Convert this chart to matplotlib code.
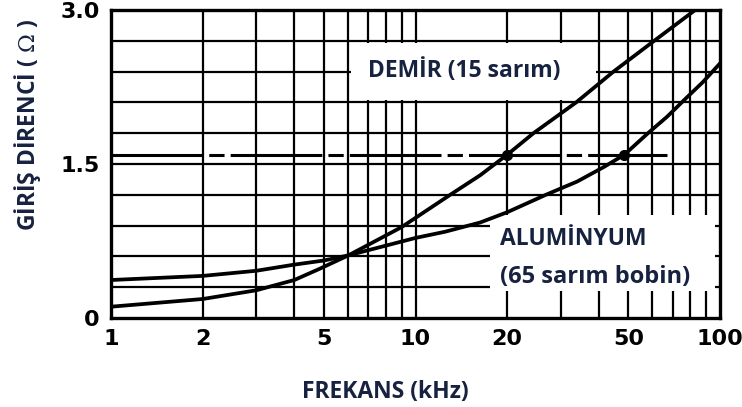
import matplotlib
matplotlib.use("Agg")
import matplotlib.pyplot as plt
from matplotlib.patches import Rectangle

# values
demir_khz = [1, 2, 3, 4, 4.85, 6.02, 9, 13, 16.3, 20, 24.4, 33.7, 44.7, 60.8, 82.9]
demir_ohm = [0.11, 0.185, 0.27, 0.37, 0.48, 0.61, 0.885, 1.2, 1.39, 1.59, 1.8, 2.1, 2.4, 2.7, 3.0]

alu_khz = [1, 2, 3, 4, 5, 6.02, 10, 12.5, 16.3, 20, 26.8, 34, 41.5, 48.5, 58, 67, 77.3, 88, 100]
alu_ohm = [0.37, 0.41, 0.46, 0.52, 0.56, 0.61, 0.78, 0.84, 0.93, 1.03, 1.2, 1.33,
           1.47, 1.59, 1.8, 1.96, 2.14, 2.3, 2.48]

ref_level = 1.59
ref_span = [1, 67]
marked_khz = [20, 48.5]

x_ticks = [1, 2, 5, 10, 20, 50, 100]
x_grid = [2, 3, 4, 5, 6, 7, 8, 9, 10, 20, 30, 40, 50, 60, 70, 80, 90]
y_grid = [0.3, 0.6, 0.9, 1.2, 1.5, 1.8, 2.1, 2.4, 2.7]
y_ticks = [0, 1.5, 3.0]
y_ticklabels = ["0", "1.5", "3.0"]

navy = "#16223f"
label_font = ["Open Sans", "DejaVu Sans"]
plt.rcParams["mathtext.fontset"] = "dejavuserif"

fig = plt.figure(figsize=(7.42, 4.07), dpi=100)
ax = fig.add_axes([111 / 742, 89 / 407, 609 / 742, 308 / 407])
ax.set_xscale("log")
ax.set_xlim(1, 100)
ax.set_ylim(0, 3.0)

for g in x_grid:
    ax.axvline(g, color="black", lw=1.6, zorder=1)
for g in y_grid:
    ax.axhline(g, color="black", lw=1.6, zorder=1)

# white label boxes that blank out the grid
ax.add_patch(Rectangle((6.15, 2.12), 39.3 - 6.15, 2.68 - 2.12,
                       facecolor="white", edgecolor="none", zorder=2))
ax.add_patch(Rectangle((17.6, 0.26), 96.5 - 17.6, 1.0 - 0.26,
                       facecolor="white", edgecolor="none", zorder=2))

ax.plot(ref_span, [ref_level, ref_level], color="black", lw=2.2,
        dashes=(30, 2, 5, 2), zorder=3)
ax.plot(demir_khz, demir_ohm, color="black", lw=2.7, zorder=4)
ax.plot(alu_khz, alu_ohm, color="black", lw=2.7, zorder=4)
ax.plot(marked_khz, [ref_level] * len(marked_khz), "o", color="black",
        ms=7, zorder=5)

box_kw = dict(fontsize=16.5, fontweight="bold", family=label_font, color=navy,
              va="center", ha="left", zorder=6)
ax.text(7.0, 2.41, "DEMİR (15 sarım)", **box_kw)
ax.text(19.0, 0.77, "ALUMİNYUM", **box_kw)
ax.text(19.0, 0.40, "(65 sarım bobin)", fontsize=17, fontweight="bold",
        family=label_font, color=navy, va="center", ha="left", zorder=6)

for s in ax.spines.values():
    s.set_linewidth(2.4)
    s.set_zorder(7)

ax.set_xticks(x_ticks)
ax.set_xticklabels([str(t) for t in x_ticks])
ax.set_xticks([], minor=True)
ax.set_yticks(y_ticks)
ax.set_yticklabels(y_ticklabels)
ax.tick_params(length=0, pad=8)
for lab in ax.get_xticklabels() + ax.get_yticklabels():
    lab.set_fontweight("bold")
    lab.set_fontsize(16)

fig.text(385 / 742, 1 - 392 / 407, "FREKANS (kHz)", fontsize=16.5,
         fontweight="bold", family=label_font, color=navy,
         ha="center", va="center")
fig.text(28 / 742, 1 - 125 / 407, "GİRİŞ DİRENCİ ( $\\mathit{\\Omega}$ )",
         fontsize=16.5, fontweight="bold", family=label_font, color=navy,
         ha="center", va="center", rotation=90)

fig.savefig("out.png", dpi=100)
